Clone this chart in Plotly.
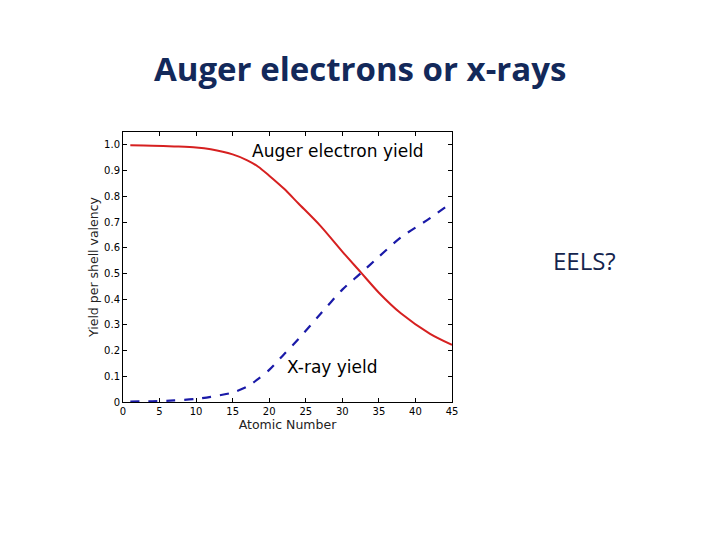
import plotly.graph_objects as go

# values
atomic_number = [1, 4, 7, 10, 12, 15, 17, 18.5, 20, 22, 24, 27, 30, 32.5, 35, 38, 42, 45]
auger_yield = [0.998, 0.997, 0.994, 0.99, 0.983, 0.963, 0.94, 0.915, 0.88, 0.83, 0.772, 0.685,
               0.585, 0.505, 0.425, 0.345, 0.265, 0.222]
xray_yield = [0.002, 0.003, 0.006, 0.012, 0.02, 0.037, 0.06, 0.09, 0.125, 0.185, 0.245, 0.342,
              0.437, 0.50, 0.565, 0.64, 0.715, 0.777]
y_ticks = [0, 0.1, 0.2, 0.3, 0.4, 0.5, 0.6, 0.7, 0.8, 0.9, 1.0]
y_ticktext = ['0', '0.1', '0.2', '0.3', '0.4', '0.5', '0.6', '0.7', '0.8', '0.9', '1.0']
x_ticks = [0, 5, 10, 15, 20, 25, 30, 35, 40, 45]

mpl_font = 'DejaVu Sans'
slide_font = 'Open Sans'

fig = go.Figure()
fig.add_trace(go.Scatter(x=atomic_number, y=auger_yield, mode='lines',
                         line=dict(color='#d62020', width=2, shape='spline', smoothing=0.8),
                         name='Auger'))
fig.add_trace(go.Scatter(x=atomic_number, y=xray_yield, mode='lines',
                         line=dict(color='#1a1aa8', width=2.2, dash='dash', shape='spline', smoothing=0.8),
                         name='X-ray'))

axis_common = dict(
    showline=True, mirror='ticks', linecolor='black', linewidth=1,
    ticks='inside', ticklen=4, tickcolor='black',
    showgrid=False, zeroline=False,
    tickfont=dict(family=mpl_font, size=10, color='black'),
)

# page body has an 8px margin, so everything is placed 8px up/left
L, R, T, B = 115, 276, 124, 146
pw, ph = 720 - L - R, 540 - T - B

fig.update_layout(
    width=720, height=540,
    margin=dict(l=L, r=R, t=T, b=B, autoexpand=False),
    paper_bgcolor='white', plot_bgcolor='white',
    showlegend=False,
    xaxis=dict(range=[0, 45], tickvals=x_ticks,
               title=dict(text='Atomic Number', standoff=1,
                          font=dict(family=mpl_font, size=12.5, color='#222')),
               **axis_common),
    yaxis=dict(range=[0, 1.05], tickvals=y_ticks, ticktext=y_ticktext,
               title=dict(text='Yield per shell valency', standoff=2,
                          font=dict(family=mpl_font, size=12.5, color='#222')),
               **axis_common),
)

# text inside the chart
fig.add_annotation(x=29.4, y=0.978, text='Auger electron yield', showarrow=False,
                   font=dict(family=mpl_font, size=17, color='black'))
fig.add_annotation(x=28.7, y=0.137, text='X-ray yield', showarrow=False,
                   font=dict(family=mpl_font, size=17, color='black'))

# slide text
fig.add_annotation(xref='paper', yref='paper', x=(352 - L) / pw, y=(540 - 61 - B) / ph,
                   xanchor='center', yanchor='middle',
                   text='<b>Auger electrons or x-rays</b>', showarrow=False,
                   font=dict(family=slide_font, size=33, color='#13295a'))
fig.add_annotation(xref='paper', yref='paper', x=(576 - L) / pw, y=(540 - 252 - B) / ph,
                   xanchor='center', yanchor='middle',
                   text='EELS?', showarrow=False,
                   font=dict(family=slide_font, size=24, color='#14244d'))

fig.write_html("out.html")
